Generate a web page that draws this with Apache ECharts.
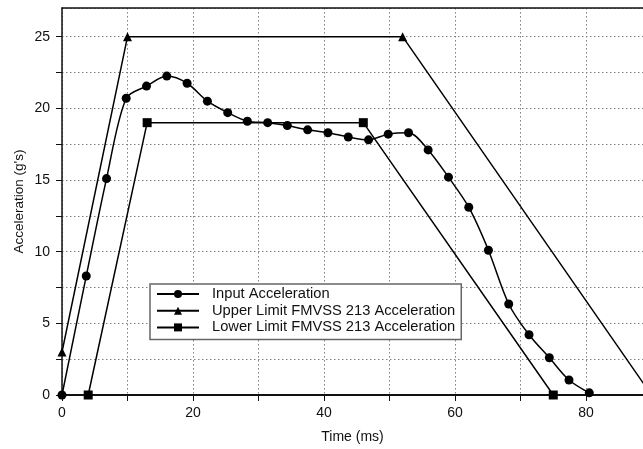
<!DOCTYPE html>
<html>
<head>
<meta charset="utf-8">
<script src="https://cdn.jsdelivr.net/npm/echarts@6/dist/echarts.min.js"></script>
<style>
  html, body { margin: 0; padding: 0; background: #fff; }
  #main { width: 643px; height: 449px; }
</style>
</head>
<body>
<div id="main"></div>
<script>
const inputTime = [0, 3.7, 6.8, 9.8, 12.9, 16.0, 19.1, 22.2, 25.3, 28.3, 31.4, 34.4, 37.5, 40.6, 43.7, 46.8, 49.8, 52.9, 55.9, 59.0, 62.1, 65.1, 68.2, 71.3, 74.4, 77.4, 80.5];
const inputAccel = [0, 8.3, 15.1, 20.7, 21.55, 22.25, 21.75, 20.5, 19.7, 19.1, 19.0, 18.8, 18.5, 18.3, 18.0, 17.8, 18.2, 18.3, 17.1, 15.2, 13.1, 10.1, 6.35, 4.2, 2.6, 1.05, 0.15];
const upperTime = [0, 10, 52, 90];
const upperAccel = [3, 25, 25, 0];
const lowerTime = [4, 13, 46, 75];
const lowerAccel = [0, 19, 19, 0];
const xTickLabels = [0, 20, 40, 60, 80];
const yTickLabels = [0, 5, 10, 15, 20, 25];

const chartDom = document.getElementById("main");
const myChart = echarts.init(chartDom);
const font = "Liberation Sans";

const pairs = (xs, ys) => xs.map((x, i) => [x, ys[i]]);

const lineStyle = { color: "#000", width: 1.5 };
const dotted = { color: "#808080", type: [1.5, 2.5], width: 1 };

const option = {
  animation: false,
  backgroundColor: "#fff",
  textStyle: { fontFamily: font },
  grid: {
    left: 62,
    top: 8,
    right: 0,
    bottom: 53,
  },
  legend: {
    orient: "vertical",
    left: 150,
    top: 284,
    padding: [2, 6, 4, 6],
    itemWidth: 42,
    itemHeight: 10,
    itemGap: 0.7,
    backgroundColor: "#fff",
    borderColor: "#666",
    borderWidth: 1.5,
    borderRadius: 0,
    textStyle: {
      fontFamily: font,
      fontSize: 14.7,
      color: "#111",
      lineHeight: 16,
      padding: [0, 0, 0, 8],
    },
    data: [
      "Input Acceleration",
      "Upper Limit FMVSS 213 Acceleration",
      "Lower Limit FMVSS 213 Acceleration",
    ],
  },
  xAxis: [
    {
      type: "value",
      min: 0,
      max: 88.7,
      interval: 10,
      name: "Time (ms)",
      nameLocation: "middle",
      nameGap: 35,
      nameTextStyle: { fontFamily: font, fontSize: 14, color: "#111" },
      axisLine: { show: true, onZero: false, lineStyle: { color: "#111", width: 2 } },
      axisTick: { show: true, length: 6, lineStyle: { color: "#111" } },
      axisLabel: {
        fontFamily: font,
        fontSize: 14,
        color: "#111",
        margin: 11,
        showMaxLabel: false,
        formatter: (v) => (xTickLabels.includes(v) ? String(v) : ""),
      },
      splitLine: { show: true, lineStyle: dotted },
    },
    {
      type: "value",
      position: "top",
      min: 0,
      max: 88.7,
      axisLine: { show: true, onZero: false, lineStyle: { color: "#111", width: 1.5 } },
      axisTick: { show: false },
      axisLabel: { show: false },
      splitLine: { show: false },
    },
  ],
  yAxis: {
    type: "value",
    min: 0,
    max: 27,
    interval: 2.5,
    name: "Acceleration (g's)",
    nameLocation: "middle",
    nameGap: 36,
    nameMoveOverlap: false,
    nameTextStyle: { fontFamily: font, fontSize: 13.5, color: "#111" },
    axisLine: { show: true, lineStyle: { color: "#111", width: 1.5 } },
    axisTick: { show: true, length: 6, lineStyle: { color: "#111" } },
    axisLabel: {
      fontFamily: font,
      fontSize: 14,
      color: "#111",
      margin: 12,
      showMaxLabel: false,
      formatter: (v) => (yTickLabels.includes(v) ? String(v) : ""),
    },
    splitLine: { show: true, lineStyle: dotted },
  },
  series: [
    {
      name: "Input Acceleration",
      type: "line",
      data: pairs(inputTime, inputAccel),
      smooth: 0.3,
      symbol: "circle",
      symbolSize: 9,
      itemStyle: { color: "#000" },
      lineStyle: lineStyle,
    },
    {
      name: "Upper Limit FMVSS 213 Acceleration",
      type: "line",
      data: pairs(upperTime, upperAccel),
      symbol: "triangle",
      symbolSize: 9,
      clip: true,
      itemStyle: { color: "#000" },
      lineStyle: lineStyle,
    },
    {
      name: "Lower Limit FMVSS 213 Acceleration",
      type: "line",
      data: pairs(lowerTime, lowerAccel),
      symbol: "rect",
      symbolSize: 9,
      itemStyle: { color: "#000" },
      lineStyle: lineStyle,
    },
  ],
};

myChart.setOption(option);
</script>
</body>
</html>
